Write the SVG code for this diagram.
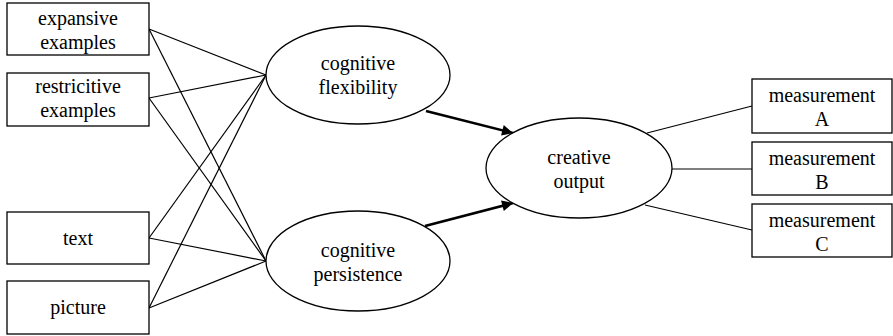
<svg xmlns="http://www.w3.org/2000/svg" width="893" height="336" viewBox="0 0 893 336">
  <style>
    .box { fill: #ffffff; stroke: #000000; stroke-width: 1.3; }
    .oval { fill: #ffffff; stroke: #000000; stroke-width: 1.3; }
    .link { stroke: #000000; stroke-width: 1.2; fill: none; }
    .path { stroke: #000000; stroke-width: 2.6; fill: none; marker-end: url(#head); }
    svg g text.lbl { font-family: "Liberation Serif", "Times New Roman", serif; font-size: 20px; fill: #000000; text-anchor: middle; }
  </style>
  <defs>
    <marker id="head" viewBox="0 0 10 10" refX="10" refY="5" markerWidth="5" markerHeight="4.2" markerUnits="strokeWidth" orient="auto">
      <path d="M0,0 L10,5 L0,10 Z" fill="#000000"/>
    </marker>
  </defs>

  <!-- connectors -->
  <g id="connectors">
    <line class="link" x1="149" y1="29" x2="266" y2="75"/>
    <line class="link" x1="149" y1="29" x2="266" y2="261"/>
    <line class="link" x1="149" y1="98" x2="266" y2="75"/>
    <line class="link" x1="149" y1="98" x2="266" y2="261"/>
    <line class="link" x1="149" y1="238" x2="266" y2="75"/>
    <line class="link" x1="149" y1="238" x2="266" y2="261"/>
    <line class="link" x1="149" y1="308" x2="266" y2="75"/>
    <line class="link" x1="149" y1="308" x2="266" y2="261"/>
    <line class="path" x1="426" y1="111" x2="513" y2="133"/>
    <line class="path" x1="425" y1="226" x2="513" y2="203"/>
    <line class="link" x1="647" y1="133" x2="752" y2="106"/>
    <line class="link" x1="672" y1="169" x2="752" y2="169"/>
    <line class="link" x1="645" y1="205" x2="752" y2="230"/>
  </g>

  <!-- inputs -->
  <g id="expansive-examples">
    <rect class="box" x="7" y="3" width="142" height="52"/>
    <text class="lbl" x="78" y="25">expansive</text>
    <text class="lbl" x="78" y="49">examples</text>
  </g>
  <g id="restrictive-examples">
    <rect class="box" x="7" y="73" width="142" height="53"/>
    <text class="lbl" x="78" y="93">restricitive</text>
    <text class="lbl" x="78" y="117">examples</text>
  </g>
  <g id="text-input">
    <rect class="box" x="7" y="212" width="142" height="52"/>
    <text class="lbl" x="78" y="245">text</text>
  </g>
  <g id="picture-input">
    <rect class="box" x="7" y="281" width="142" height="53"/>
    <text class="lbl" x="78" y="314">picture</text>
  </g>

  <!-- latent factors -->
  <g id="cognitive-flexibility">
    <ellipse class="oval" cx="358" cy="75" rx="92" ry="49"/>
    <text class="lbl" x="358" y="70">cognitive</text>
    <text class="lbl" x="358" y="94">flexibility</text>
  </g>
  <g id="cognitive-persistence">
    <ellipse class="oval" cx="358" cy="261" rx="92" ry="50"/>
    <text class="lbl" x="358" y="257">cognitive</text>
    <text class="lbl" x="358" y="281">persistence</text>
  </g>
  <g id="creative-output">
    <ellipse class="oval" cx="579" cy="168" rx="93" ry="50"/>
    <text class="lbl" x="579" y="164">creative</text>
    <text class="lbl" x="579" y="188">output</text>
  </g>

  <!-- measurements -->
  <g id="measurement-a">
    <rect class="box" x="752" y="79" width="140" height="54"/>
    <text class="lbl" x="822" y="102">measurement</text>
    <text class="lbl" x="822" y="126">A</text>
  </g>
  <g id="measurement-b">
    <rect class="box" x="752" y="142" width="140" height="53"/>
    <text class="lbl" x="822" y="165">measurement</text>
    <text class="lbl" x="822" y="189">B</text>
  </g>
  <g id="measurement-c">
    <rect class="box" x="752" y="204" width="140" height="53"/>
    <text class="lbl" x="822" y="227">measurement</text>
    <text class="lbl" x="822" y="251">C</text>
  </g>
</svg>
